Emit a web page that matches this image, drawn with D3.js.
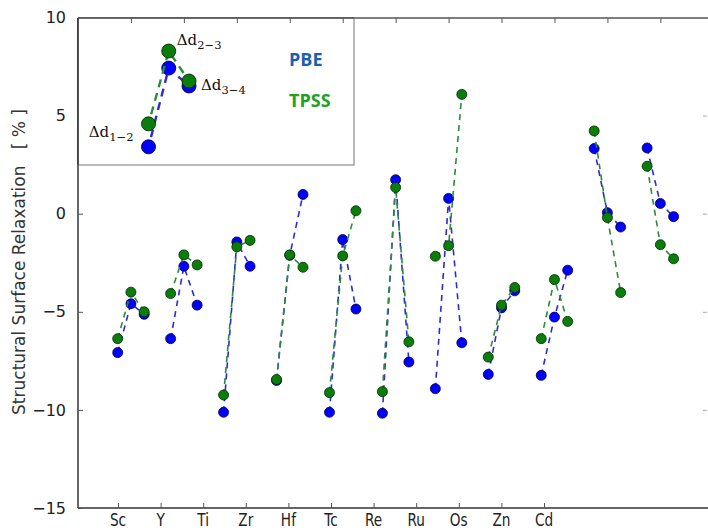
<!DOCTYPE html>
<html>
<head>
<meta charset="utf-8">
<script src="https://cdn.jsdelivr.net/npm/d3@7/dist/d3.min.js"></script>
<style>
  html, body { margin: 0; padding: 0; background: #fff; }
  svg { display: block; }
</style>
</head>
<body>
<svg id="chart" width="708" height="531"></svg>
<script>
// Surface relaxation of the first three interlayer spacings (%)
const categories = ["Sc", "Y", "Ti", "Zr", "Hf", "Tc", "Re", "Ru", "Os", "Zn", "Cd"];
const layers = ["1\u22122", "2\u22123", "3\u22124"];

// PBE: [Δd12, Δd23, Δd34] per element
const pbe = [
  [-7.08, -4.59, -5.13],
  [-6.37, -2.68, -4.66],
  [-10.12, -1.44, -2.68],
  [-8.50, -2.12, 0.98],
  [-10.12, -1.32, -4.86],
  [-10.17, 1.73, -7.56],
  [-8.92, 0.78, -6.58],
  [-8.19, -4.80, -3.93],
  [-8.24, -5.27, -2.88],
  [3.32, 0.05, -0.68],
  [3.35, 0.52, -0.15]
];

// TPSS: [Δd12, Δd23, Δd34] per element
const tpss = [
  [-6.37, -4.00, -5.00],
  [-4.07, -2.10, -2.61],
  [-9.24, -1.69, -1.36],
  [-8.45, -2.10, -2.73],
  [-9.12, -2.15, 0.15],
  [-9.07, 1.34, -6.53],
  [-2.17, -1.63, 6.08],
  [-7.31, -4.66, -3.76],
  [-6.37, -3.36, -5.49],
  [4.22, -0.20, -4.02],
  [2.42, -1.58, -2.30]
];

// Key diagram in the upper-left box (values on the same % axis)
const keyPbe = [3.41, 7.42, 6.51];
const keyTpss = [4.58, 8.29, 6.76];

const yTicks = [10, 5, 0, -5, -10, -15];

const svg = d3.select("#chart");
const plot = { left: 78, right: 708, top: 18, bottom: 508 };

// Each element occupies four slots: three layers and a gap
const x = d3.scaleLinear().domain([-3, 44.6]).range([plot.left, plot.right]);
const y = d3.scaleLinear().domain([-15, 10]).range([plot.bottom, plot.top - 0.5]);
const xLabel = d3.scalePoint().domain(categories).range([118, 544]);

const colors = {
  pbe: { line: "#2a2ad8", fill: "#0000ff", edge: "#000040" },
  tpss: { line: "#2c8a3c", fill: "#0a7d0a", edge: "#002a00" }
};

const font = "'DejaVu Sans', sans-serif";

// Axes frame
const frame = svg.append("g").attr("stroke", "#333").attr("fill", "none");
frame.append("line").attr("x1", plot.left).attr("x2", plot.left)
  .attr("y1", plot.top).attr("y2", plot.bottom).attr("stroke-width", 1.5);
frame.append("line").attr("x1", plot.left).attr("x2", plot.right)
  .attr("y1", plot.bottom).attr("y2", plot.bottom).attr("stroke-width", 1.5);
frame.append("line").attr("x1", plot.left).attr("x2", plot.right)
  .attr("y1", plot.top).attr("y2", plot.top).attr("stroke-width", 1.5).attr("stroke", "#555");

// Left axis with inward ticks
const yAxis = d3.axisLeft(y).tickValues(yTicks).tickSizeInner(-5).tickSizeOuter(0)
  .tickPadding(12).tickFormat(d => d3.format("d")(d).replace("-", "\u2212"));
const gy = svg.append("g").attr("transform", `translate(${plot.left},0)`).call(yAxis);
gy.select(".domain").remove();
gy.selectAll(".tick line").attr("stroke", "#555");
gy.selectAll(".tick text").attr("font-family", font).attr("font-size", 16).attr("fill", "#222");

// Right-side inward ticks
const yRight = d3.axisRight(y).tickValues(yTicks.filter(v => v > -15 && v < 10))
  .tickSizeInner(-4).tickSizeOuter(0).tickFormat("");
const gyr = svg.append("g").attr("transform", `translate(${plot.right - 1},0)`).call(yRight);
gyr.select(".domain").remove();
gyr.selectAll(".tick line").attr("stroke", "#aaa");

// Top ticks at each element's middle layer
const topTicks = categories.map((c, i) => 4 * i + 1);
const xTop = d3.axisTop(x).tickValues(topTicks).tickSizeInner(-5).tickSizeOuter(0).tickFormat("");
const gxt = svg.append("g").attr("transform", `translate(0,${plot.top})`).call(xTop);
gxt.select(".domain").remove();
gxt.selectAll(".tick line").attr("stroke", "#555");

// Bottom element labels
const xBottom = d3.axisBottom(xLabel).tickSizeInner(-5).tickSizeOuter(0).tickFormat("");
const gxb = svg.append("g").attr("transform", `translate(0,${plot.bottom})`).call(xBottom);
gxb.select(".domain").remove();
gxb.selectAll(".tick line").attr("stroke", "#555");
svg.append("g").selectAll("text").data(categories).join("text")
  .attr("transform", d => `translate(${xLabel(d)},526) scale(0.78,1)`)
  .attr("text-anchor", "middle")
  .attr("font-family", font).attr("font-size", 17.5).attr("fill", "#222")
  .text(d => d);

// Y label
svg.append("text")
  .attr("transform", `translate(24.5,${(plot.top + plot.bottom) / 2 - 1}) rotate(-90)`)
  .attr("text-anchor", "middle")
  .attr("font-family", font).attr("font-size", 17).attr("fill", "#333")
  .style("white-space", "pre")
  .text("Structural Surface Relaxation   [ % ]");

// Series: each element drawn as its own dashed polyline
const line = d3.line().x(d => x(d.xi)).y(d => y(d.v));

function drawSeries(g, values, c, i) {
  const pts = values.map((v, j) => ({ xi: 4 * i + j, v }));
  g.append("path").datum(pts).attr("d", line)
    .attr("fill", "none").attr("stroke", c.line).attr("stroke-width", 1.6)
    .attr("stroke-dasharray", "6,5");
  g.selectAll(null).data(pts).join("circle")
    .attr("cx", d => x(d.xi)).attr("cy", d => y(d.v)).attr("r", 5)
    .attr("fill", c.fill).attr("stroke", c.edge).attr("stroke-width", 0.8);
}

const marks = svg.append("g");
categories.forEach((cat, i) => {
  const g = marks.append("g").attr("class", "element");
  drawSeries(g, pbe[i], colors.pbe, i);
  drawSeries(g, tpss[i], colors.tpss, i);
});

// Key box
const box = { x0: plot.left, y0: plot.top, x1: 354, y1: 165 };
svg.append("rect").attr("x", box.x0).attr("y", box.y0)
  .attr("width", box.x1 - box.x0).attr("height", box.y1 - box.y0)
  .attr("fill", "#fff").attr("stroke", "#777").attr("stroke-width", 1);
svg.append("line").attr("x1", plot.left).attr("x2", box.x1)
  .attr("y1", plot.top).attr("y2", plot.top).attr("stroke", "#555").attr("stroke-width", 1.5);
svg.append("line").attr("x1", plot.left).attr("x2", plot.left)
  .attr("y1", plot.top).attr("y2", box.y1).attr("stroke", "#333").attr("stroke-width", 1.5);
// top ticks remain visible over the box
gxt.raise();

const kx = d3.scaleLinear().domain([0, 2]).range([148.5, 189]);
const kLine = d3.line().x((d, j) => kx(j)).y(d => y(d));
const key = svg.append("g");
[[keyPbe, colors.pbe], [keyTpss, colors.tpss]].forEach(([vals, c]) => {
  key.append("path").datum(vals).attr("d", kLine)
    .attr("fill", "none").attr("stroke", c.line).attr("stroke-width", 2.4)
    .attr("stroke-dasharray", "8,6").attr("stroke-dashoffset", 4);
  key.selectAll(null).data(vals).join("circle")
    .attr("cx", (d, j) => kx(j)).attr("cy", d => y(d)).attr("r", 7)
    .attr("fill", c.fill).attr("stroke", c.edge).attr("stroke-width", 0.9);
});

// Layer labels next to the key markers
const keyLabels = [
  { j: 0, dx: -15, dy: 13, anchor: "end" },
  { j: 1, dx: 8, dy: -6, anchor: "start" },
  { j: 2, dx: 12, dy: 9, anchor: "start" }
];
const serif = "'DejaVu Serif', 'Liberation Serif', serif";
keyLabels.forEach(k => {
  const t = key.append("text")
    .attr("x", kx(k.j) + k.dx).attr("y", y(keyTpss[k.j]) + k.dy)
    .attr("text-anchor", k.anchor)
    .attr("font-family", serif).attr("font-size", 15).attr("fill", "#111");
  t.append("tspan").text("\u0394d");
  t.append("tspan").attr("font-size", 11.5).attr("dy", 4).text(layers[k.j]);
});

// Method names
const sansBold = "'Open Sans', 'Noto Sans', sans-serif";
svg.append("text").attr("x", 289).attr("y", 66)
  .attr("font-family", sansBold).attr("font-weight", 700).attr("font-size", 18)
  .attr("fill", "#1a60b0").text("PBE");
svg.append("text").attr("x", 289).attr("y", 107)
  .attr("font-family", sansBold).attr("font-weight", 700).attr("font-size", 18)
  .attr("fill", "#22a022").text("TPSS");
</script>
</body>
</html>
